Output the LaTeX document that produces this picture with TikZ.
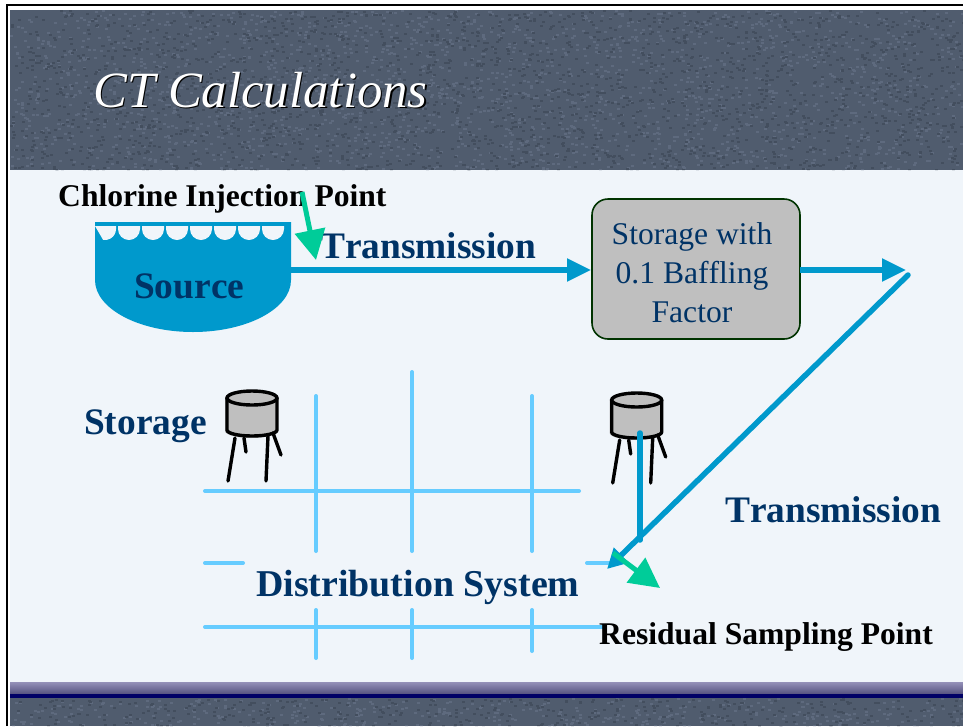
\documentclass[tikz,border=0pt]{standalone}
\usepackage{fontspec}
\setmainfont[Kerning=Off]{Liberation Serif}
\usetikzlibrary{arrows.meta}

\definecolor{slidebody}{HTML}{F0F5FA}
\definecolor{slatebase}{HTML}{505C6E}
\definecolor{slatelight}{HTML}{5E6A7E}
\definecolor{slatedark}{HTML}{434E5E}
\definecolor{bandtop}{HTML}{9490B8}
\definecolor{bandlow}{HTML}{55527F}
\definecolor{bandnavy}{HTML}{000066}
\definecolor{pipeblue}{HTML}{0099CC}
\definecolor{gridblue}{HTML}{66CCFF}
\definecolor{markgreen}{HTML}{00CC99}
\definecolor{deepblue}{HTML}{003366}
\definecolor{tankgray}{HTML}{BFBFBF}
\definecolor{boxedge}{HTML}{003300}

\tikzset{
	biglabel/.style={inner sep=0, anchor=base west, text=deepblue, font=\bfseries\fontsize{37.4}{40}\selectfont},
	pointlabel/.style={inner sep=0, anchor=base west, text=black, font=\bfseries\fontsize{31.6}{34}\selectfont},
	titlelabel/.style={inner sep=0, anchor=base west, font=\itshape\fontsize{50.8}{54}\selectfont},
	pipe/.style={draw=pipeblue, line width=5.5pt},
	gridline/.style={draw=gridblue, line width=4pt, line cap=round},
	marker/.style={draw=markgreen, line width=5pt, -{Triangle[length=30pt,width=30pt,fill=markgreen]}},
	leg/.style={draw=black, line width=3.4pt, line cap=round}
}

\begin{document}
\begin{tikzpicture}[x=1pt,y=-1pt]
	\useasboundingbox (0,0) rectangle (963,726);

	%Frame
	\fill[white] (0,0) rectangle (963,726);
	\draw[black, line width=1.6pt] (6.7,726) -- (6.7,5) -- (963,5);
	\fill[slidebody] (10,170) rectangle (963,682);

	%Slate bars
	\fill[slatebase] (10,10) rectangle (963,170);
	\fill[slatebase] (10,698) rectangle (963,726);
	\pgfmathsetseed{7}
	\begin{scope}
		\clip (10,10) rectangle (963,170) (10,698) rectangle (963,726);
		\foreach \i in {1,...,2600} {
			\pgfmathsetmacro\nx{10+953*rnd}
			\pgfmathsetmacro\ny{10+188*rnd}
			\pgfmathsetmacro\my{\ny>170?\ny+528:\ny}
			\fill[slatelight] (\nx,\my) rectangle ++(3,2);
		}
		\foreach \i in {1,...,2600} {
			\pgfmathsetmacro\nx{10+953*rnd}
			\pgfmathsetmacro\ny{10+188*rnd}
			\pgfmathsetmacro\my{\ny>170?\ny+528:\ny}
			\fill[slatedark] (\nx,\my) rectangle ++(3,2);
		}
	\end{scope}

	%Band
	\shade[top color=bandtop, bottom color=bandlow] (10,682) rectangle (963,694);
	\fill[bandnavy] (10,694) rectangle (963,698);

	%Title
	\node[titlelabel, text=black] (titleshade) at (94.5,108.5) {CT Calculations};
	\node[titlelabel, text=white] (title) at (93,107) {CT Calculations};

	%Grid
	\draw[gridline] (205,491) -- (579,491);
	\draw[gridline] (205,563) -- (243,563);
	\draw[gridline] (587,563) -- (611,563);
	\draw[gridline] (205,627) -- (603,627);
	\draw[gridline] (316,396) -- (316,551);
	\draw[gridline] (412,372) -- (412,551);
	\draw[gridline] (532,396) -- (532,551);
	\draw[gridline] (316,610) -- (316,658);
	\draw[gridline] (412,610) -- (412,658);
	\draw[gridline] (532,610) -- (532,651);

	%Source
	\fill[pipeblue] (95,222) -- (291,222) -- (291,280) arc[start angle=0, end angle=180, x radius=98, y radius=52] -- cycle;
	\fill[slidebody] (95,226) -- (116,226) -- (116,229) arc[start angle=0, end angle=100, radius=11] -- cycle;
	\foreach \sx in {118,142,...,262} {
		\fill[slidebody] (\sx,226) -- (\sx+22,226) -- (\sx+22,229) arc[start angle=0, end angle=180, radius=11] -- cycle;
	}
	\node[biglabel] (source) at (134,298) {Source};
	\coordinate (sourceout) at (291,270);

	%Storage box
	\node[draw=boxedge, fill=tankgray, line width=1.6pt, rounded corners=16pt, minimum width=208pt, minimum height=140pt, inner sep=0] (baffle) at (696,269) {};
	\node[align=center, text=deepblue, inner sep=0, font=\fontsize{31.6}{39}\selectfont] (bafflelabel) at (692,273) {Storage with\\0.1 Baffling\\Factor};

	%Tanks
	\foreach \tx/\ty in {0/0,384.7/2} {
		\begin{scope}[shift={(\tx,\ty)}]
			\fill[tankgray] (225,398) -- (225,431) arc[start angle=180, end angle=0, x radius=26, y radius=7] -- (277,398) arc[start angle=0, end angle=-180, x radius=26, y radius=8];
			\draw[black, line width=3.4pt] (252,398) ellipse[x radius=25, y radius=7];
			\draw[black, line width=3.4pt] (227,398) -- (227,430) arc[start angle=180, end angle=0, x radius=25, y radius=6] -- (277,398);
			\draw[leg] (235,438) -- (228,481);
			\draw[leg] (244,438) -- (246,452);
			\draw[leg] (268,436) -- (266,481);
			\draw[leg] (273,433) -- (281,455);
		\end{scope}
	}

	%Labels
	\node[pointlabel] (inject) at (58,206) {Chlorine Injection Point};
	\node[pointlabel] (residual) at (599,644) {Residual Sampling Point};
	\node[biglabel] (transmitone) at (320,258) {Transmission};
	\node[biglabel] (transmittwo) at (725,522) {Transmission};
	\node[biglabel] (storage) at (84,434) {Storage};
	\node[biglabel, font=\bfseries\fontsize{37.9}{40}\selectfont] (distribution) at (256,596) {Distribution System};

	%Pipes
	\coordinate (bafflein) at (591,270);
	\coordinate (baffleout) at (800,270);
	\coordinate (bendin) at (906,270);
	\coordinate (bend) at (908,275);
	\coordinate (tankout) at (640,433);
	\coordinate (branch) at (640,540);
	\coordinate (sample) at (607,569);
	\draw[pipe, -{Triangle[length=24pt,width=22pt,fill=pipeblue]}] (sourceout) -- (bafflein);
	\draw[pipe, -{Triangle[length=24pt,width=22pt,fill=pipeblue]}] (baffleout) -- (bendin);
	\draw[pipe, line cap=round, -{Triangle[length=20pt,width=20pt,fill=pipeblue]}] (bend) -- (sample);
	\draw[pipe, line cap=round] (tankout) -- (branch);

	%Markers
	\coordinate (injectfrom) at (302,192);
	\coordinate (injectto) at (316,260);
	\coordinate (samplefrom) at (613,553);
	\coordinate (sampleto) at (660,588);
	\draw[marker] (injectfrom) -- (injectto);
	\draw[marker] (samplefrom) -- (sampleto);

\end{tikzpicture}
\end{document}
